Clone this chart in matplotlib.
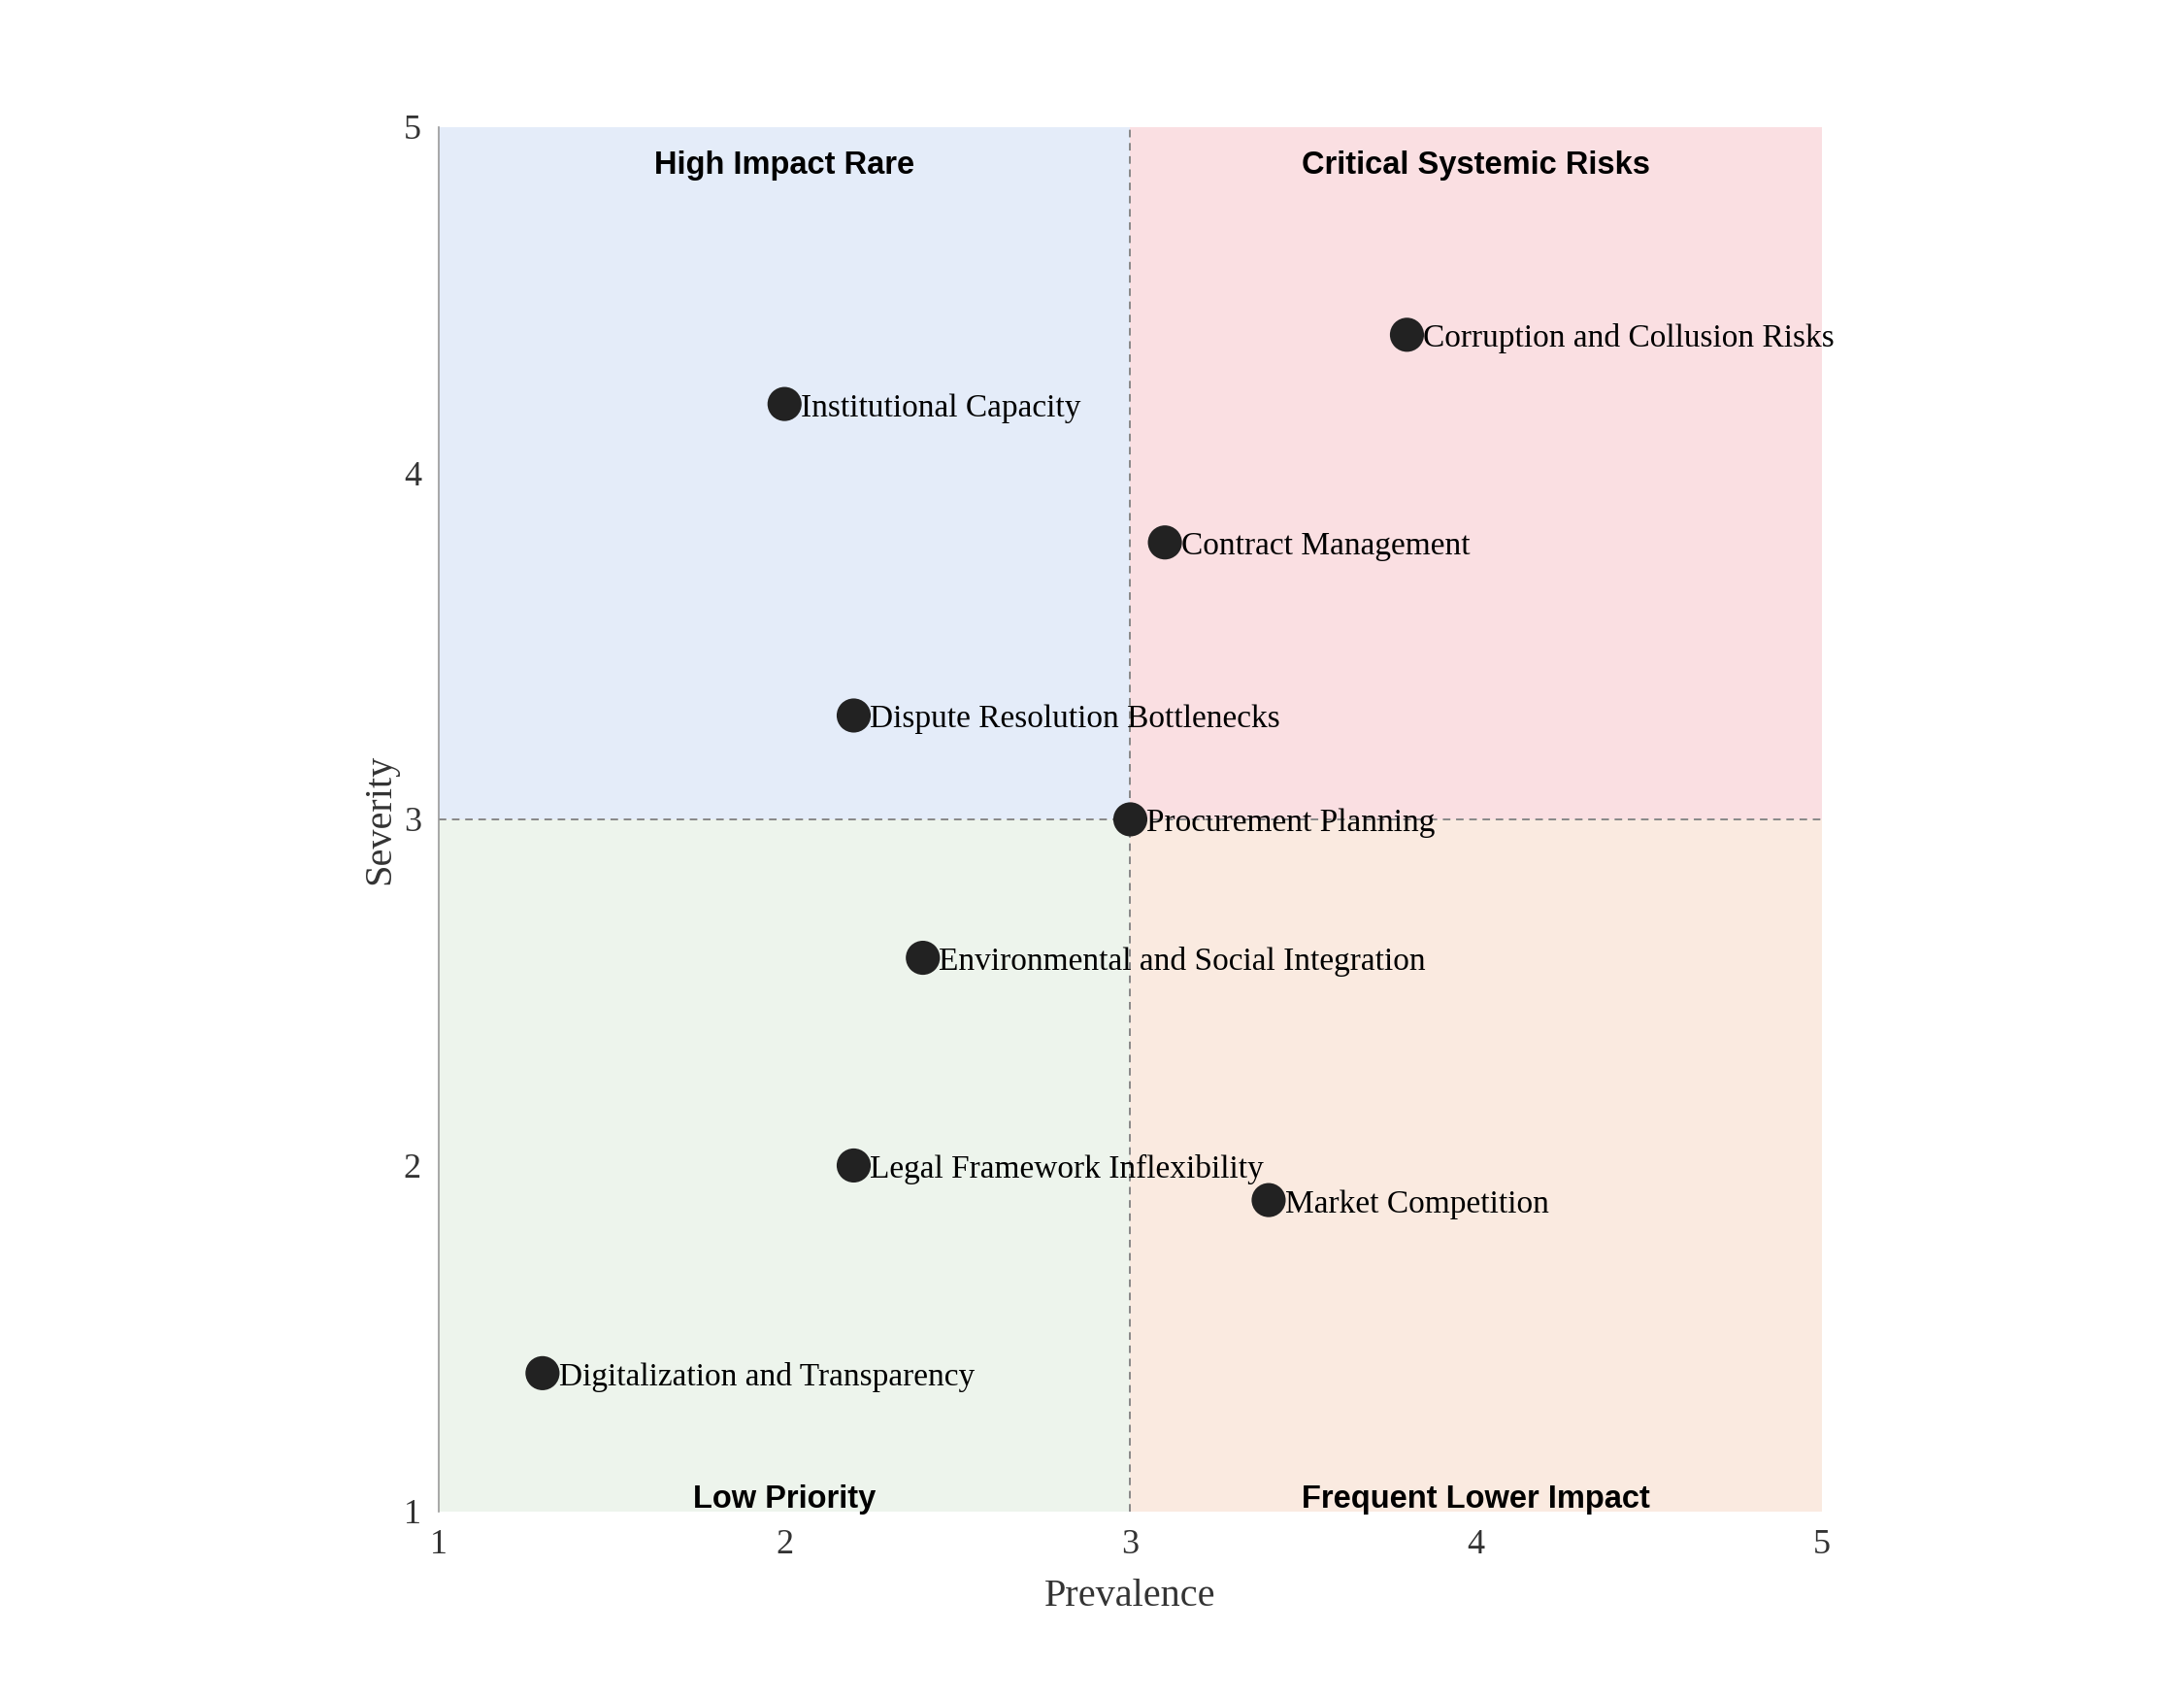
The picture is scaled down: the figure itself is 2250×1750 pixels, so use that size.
import matplotlib.pyplot as plt
from matplotlib.patches import Rectangle

risks = ["Corruption and Collusion Risks", "Institutional Capacity", "Contract Management",
         "Dispute Resolution Bottlenecks", "Procurement Planning",
         "Environmental and Social Integration", "Legal Framework Inflexibility",
         "Market Competition", "Digitalization and Transparency"]
prevalence = [3.8, 2.0, 3.1, 2.2, 3.0, 2.4, 2.2, 3.4, 1.3]
severity = [4.4, 4.2, 3.8, 3.3, 3.0, 2.6, 2.0, 1.9, 1.4]

lo, mid, hi = 1, 3, 5
quadrants = [
    # x0, y0, colour, label, label x, label y
    (lo, mid, "#E4ECF9", "High Impact Rare", 2, 4.89),
    (mid, mid, "#FADFE2", "Critical Systemic Risks", 4, 4.89),
    (lo, lo, "#EDF4EC", "Low Priority", 2, 1.036),
    (mid, lo, "#FAEAE0", "Frequent Lower Impact", 4, 1.036),
]

serif = ["Liberation Serif", "DejaVu Serif"]

fig = plt.figure(figsize=(22.5, 17.5), dpi=100)
ax = fig.add_axes([0.2009, 0.1103, 0.6333, 0.8149])

for x0, y0, col, lab, lx, ly in quadrants:
    ax.add_patch(Rectangle((x0, y0), mid - lo, mid - lo, facecolor=col, edgecolor="none", zorder=0))
    ax.text(lx, ly, lab, ha="center", va="center", fontsize=23.5, fontweight="bold",
            family=["Liberation Sans", "DejaVu Sans"], color="black", zorder=3)

ax.axvline(mid, color="#888888", ls=(0, (4, 3)), lw=1.4, zorder=1)
ax.axhline(mid, color="#888888", ls=(0, (4, 3)), lw=1.4, zorder=1)

ax.scatter(prevalence, severity, s=640, color="#222222", edgecolors="none", zorder=4)
for x, y, name in zip(prevalence, severity, risks):
    ax.annotate(name, (x, y), xytext=(12, -3), textcoords="offset points",
                ha="left", va="center", fontsize=24, family=serif, color="black", zorder=5)

ax.set_xlim(lo, hi)
ax.set_ylim(lo, hi)
ax.set_xticks([1, 2, 3, 4, 5])
ax.set_yticks([1, 2, 3, 4, 5])
ax.tick_params(length=0, labelsize=26, colors="#333333", pad=13)
for t in ax.get_xticklabels() + ax.get_yticklabels():
    t.set_family(serif)
ax.set_xlabel("Prevalence", fontsize=29, family=serif, color="#333333", labelpad=13)
ax.set_ylabel("Severity", fontsize=29, family=serif, color="#333333", labelpad=4)

for side in ["top", "right", "bottom"]:
    ax.spines[side].set_visible(False)
ax.spines["left"].set_color("#999999")
ax.spines["left"].set_linewidth(1.2)
ax.set_facecolor("white")

fig.savefig("out.png", dpi=100)
